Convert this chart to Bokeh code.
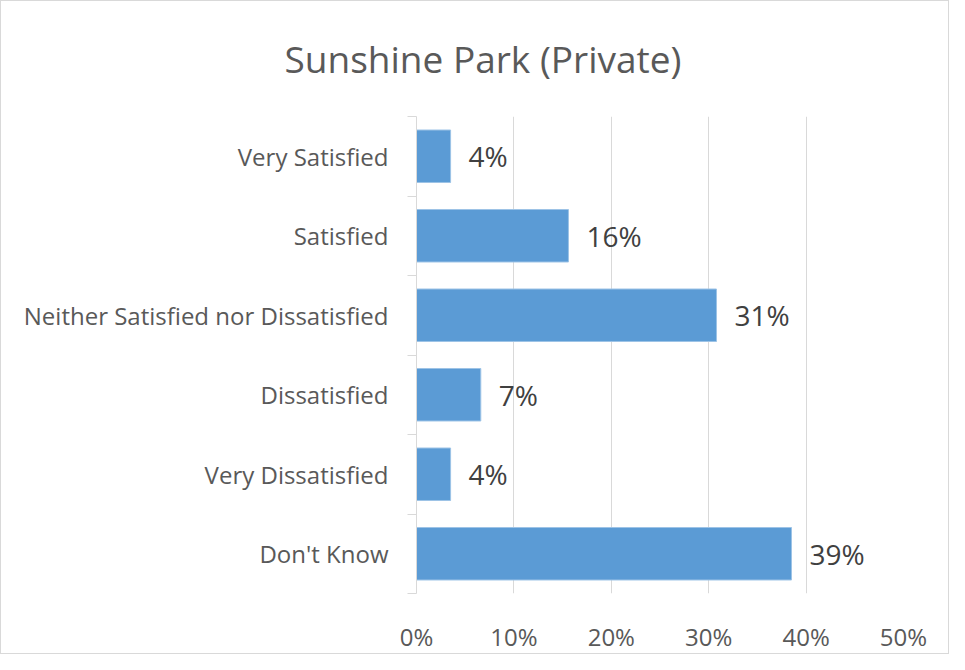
from bokeh.plotting import figure
from bokeh.models import Range1d, FixedTicker, NumeralTickFormatter, ColumnDataSource
from bokeh.core.properties import value
from bokeh.embed import file_html
from bokeh.resources import INLINE

title_text = "Sunshine Park (Private)"
categories = ["Very Satisfied", "Satisfied", "Neither Satisfied nor Dissatisfied",
              "Dissatisfied", "Very Dissatisfied", "Don't Know"]
values = [3.5, 15.6, 30.8, 6.6, 3.5, 38.5]
labels = ["4%", "16%", "31%", "7%", "4%", "39%"]
x_ticks = [0, 10, 20, 30, 40, 50]

n = len(categories)
ypos = [n - i - 0.5 for i in range(n)]

src = ColumnDataSource(dict(y=ypos, v=values, lab=labels))

FONT = "Open Sans"
W, H = 949, 654
BL, BR, BT, BB = 415, 47, 115, 58

p = figure(width=W, height=H, output_backend="svg", toolbar_location=None,
           x_range=Range1d(0, 50), y_range=Range1d(0, n), title=title_text)
p.min_border_left = BL
p.min_border_right = BR
p.min_border_top = BT
p.min_border_bottom = BB
p.outline_line_color = None
p.background_fill_color = "white"
p.border_fill_color = "white"
p.styles = {"border": "1px solid #d9d9d9"}

# title centred on the whole chart, not on the frame
p.title.align = "left"
p.title.vertical_align = "top"
p.title.offset = -132
p.title.standoff = 61
p.title.text_font = FONT
p.title.text_font_size = "37px"
p.title.text_font_style = "normal"
p.title.text_color = "#595959"

p.hbar(y="y", right="v", left=0, height=0.66, source=src,
       fill_color="#5b9bd5", line_color="#9dc3e6", line_width=1)
p.text(x="v", y="y", text="lab", source=src, x_offset=18,
       text_baseline="middle", text_align="left",
       text_font=value(FONT), text_font_size="28px", text_color="#404040")

# x axis
p.xaxis.ticker = FixedTicker(ticks=x_ticks)
p.xaxis.formatter = NumeralTickFormatter(format="0")
p.xaxis.major_label_overrides = {t: f"{t}%" for t in x_ticks}
p.xaxis.axis_line_color = None
p.xaxis.major_tick_line_color = None
p.xaxis.minor_tick_line_color = None
p.xaxis.major_label_text_font = FONT
p.xaxis.major_label_text_font_size = "24px"
p.xaxis.major_label_text_color = "#595959"
p.xaxis.major_label_standoff = 20

# y axis
p.yaxis.ticker = FixedTicker(ticks=ypos, minor_ticks=list(range(n + 1)))
p.yaxis.major_label_overrides = {y: c for y, c in zip(ypos, categories)}
p.yaxis.axis_line_color = "#d9d9d9"
p.yaxis.major_tick_line_color = None
p.yaxis.minor_tick_line_color = "#d9d9d9"
p.yaxis.minor_tick_out = 9
p.yaxis.minor_tick_in = 0
p.yaxis.major_label_text_font = FONT
p.yaxis.major_label_text_font_size = "24px"
p.yaxis.major_label_text_color = "#595959"
p.yaxis.major_label_standoff = 19

p.xgrid.ticker = FixedTicker(ticks=x_ticks)
p.xgrid.grid_line_color = "#d9d9d9"
p.ygrid.grid_line_color = None

open("out.html", "w").write(file_html(p, INLINE))
